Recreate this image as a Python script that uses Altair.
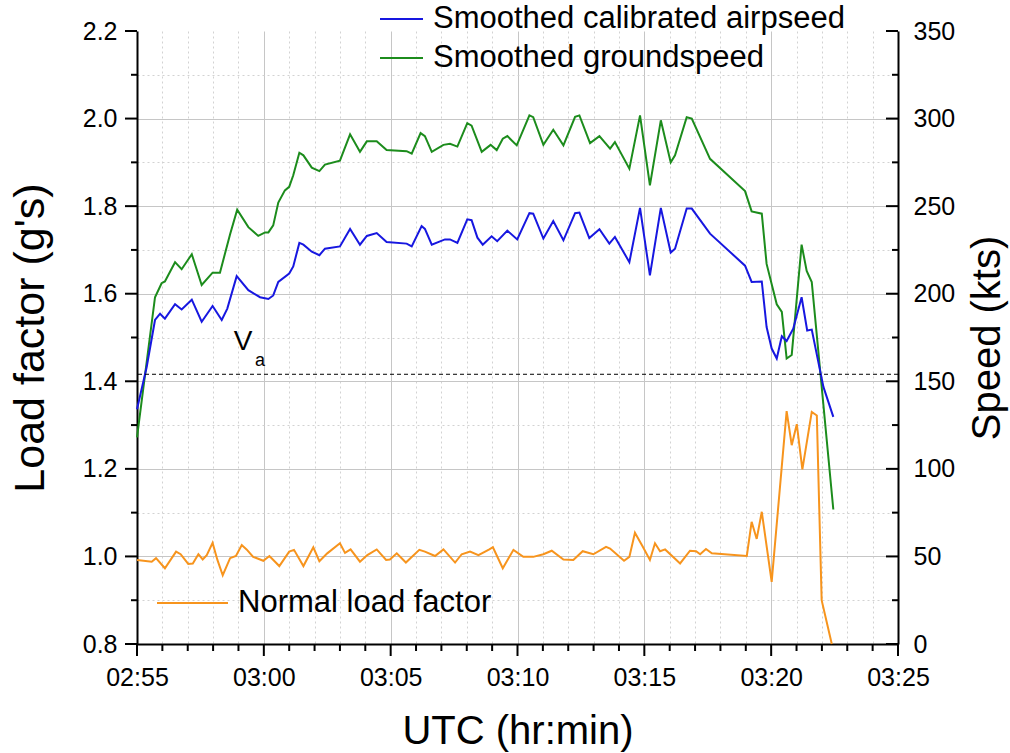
import altair as alt
import pandas as pd

FONT = "Liberation Sans"

# ---- data (time in minutes after 02:55 UTC) ----
cas_t = [0.0, 0.38, 0.71, 0.91, 1.10, 1.50, 1.76, 2.16, 2.55, 2.98, 3.34, 3.56, 3.93, 4.39, 4.85,
         5.18, 5.37, 5.57, 6.00, 6.16, 6.40, 6.56, 6.89, 7.19, 7.41, 8.00, 8.40, 8.79, 9.06, 9.45,
         9.84, 10.63, 10.83, 11.22, 11.35, 11.62, 12.14, 12.34, 12.63, 13.02, 13.19, 13.42, 13.63,
         13.98, 14.20, 14.60, 14.99, 15.47, 15.62, 16.02, 16.41, 16.81, 17.27, 17.44, 17.83, 18.23,
         18.62, 18.84, 19.41, 19.83, 20.22, 20.65, 21.04, 21.21, 21.67, 21.87, 22.59, 23.97, 24.23,
         24.63, 24.82, 25.02, 25.22, 25.42, 25.61, 25.87, 26.20, 26.42, 26.60, 27.06, 27.45]
cas_kts = [134, 158, 185, 188.6, 185.8, 194, 191, 196.6, 184, 193, 185, 191.5, 210, 202, 198,
           197, 199, 206.7, 211.5, 215.6, 229, 228, 224, 222, 225.7, 227, 237, 228, 233, 234.6,
           229.5, 228.6, 227, 238.6, 237, 228, 231, 231, 229, 242.5, 242, 232, 228,
           232.8, 230, 236, 231, 246, 245.7, 231.5, 241.5, 230.5, 246, 246.3, 231.8, 236.8,
           228.6, 232.4, 218, 249, 210.5, 249, 223.5, 225.7, 248.6, 248.6, 234.3, 216, 206.7,
           207, 181, 168.7, 163, 175.7, 173, 180, 198, 179, 179.5, 146.8, 129.7]

gs_t = [0.0, 0.71, 0.97, 1.10, 1.50, 1.76, 2.16, 2.55, 2.98, 3.27, 3.67, 3.95, 4.39, 4.78, 5.05,
        5.18, 5.37, 5.57, 5.83, 6.00, 6.16, 6.40, 6.56, 6.89, 7.19, 7.41, 8.00, 8.40, 8.79, 9.06,
        9.45, 9.84, 10.63, 10.83, 11.18, 11.35, 11.62, 12.08, 12.34, 12.63, 13.02, 13.19, 13.59,
        13.94, 14.18, 14.42, 14.60, 14.97, 15.47, 15.62, 16.02, 16.41, 16.81, 17.27, 17.44, 17.86,
        18.23, 18.65, 18.84, 19.41, 19.83, 20.22, 20.65, 21.04, 21.21, 21.67, 21.87, 22.59, 23.97,
        24.23, 24.63, 24.82, 25.22, 25.42, 25.61, 25.81, 26.20, 26.40, 26.60, 27.45]
gs_kts = [118, 198, 206, 207, 218, 214, 222.5, 205, 212, 212, 234, 248, 238, 233, 235,
          235, 239, 252, 259, 261, 267.6, 280.5, 279, 272, 270, 273.7, 276, 291, 281, 287,
          287, 282, 281.4, 280, 291.7, 290, 281, 285, 285.6, 284, 297.4, 296, 281,
          285, 282, 288.5, 290, 284.7, 301.8, 300.8, 285, 293.6, 284.7, 301, 301.8, 286,
          290, 282.8, 286.6, 271.4, 301.8, 261.9, 299, 275, 279, 300.8, 300, 277, 258.6,
          247, 245.7, 217, 194, 189.6, 163, 165, 228, 213, 206.7, 76.8]

nz_t = [0.0, 0.58, 0.75, 1.10, 1.54, 1.72, 2.02, 2.20, 2.42, 2.59, 2.75, 2.98, 3.17, 3.38, 3.67,
        3.90, 4.13, 4.32, 4.58, 4.98, 5.22, 5.61, 6.00, 6.19, 6.56, 6.95, 7.19, 7.50, 8.00, 8.20,
        8.42, 8.79, 9.08, 9.45, 9.82, 9.97, 10.24, 10.60, 11.13, 11.35, 11.75, 12.08, 12.54, 12.80,
        13.13, 13.46, 13.89, 14.03, 14.42, 14.84, 15.23, 15.62, 16.02, 16.35, 16.81, 17.20, 17.57,
        17.99, 18.49, 18.65, 19.20, 19.41, 19.63, 19.94, 20.22, 20.42, 20.62, 20.82, 21.41, 21.80,
        22.04, 22.20, 22.43, 22.66, 24.04, 24.23, 24.43, 24.63, 25.02, 25.61, 25.81, 26.01, 26.23,
        26.60, 26.80, 26.99, 27.39]
nz_g = [0.992, 0.988, 0.996, 0.973, 1.011, 1.005, 0.983, 0.984, 1.005, 0.993, 1.003, 1.031, 0.992,
        0.957, 0.996, 1.001, 1.026, 1.016, 0.999, 0.990, 1.001, 0.978, 1.011, 1.015, 0.978, 1.021,
        0.989, 1.007, 1.030, 1.008, 1.016, 0.988, 1.003, 1.016, 0.992, 0.993, 1.007, 0.986, 1.015,
        1.011, 1.001, 1.016, 0.986, 1.005, 1.011, 1.003, 1.016, 1.021, 0.973, 1.015, 0.999, 0.999,
        1.005, 1.013, 0.993, 0.992, 1.012, 1.005, 1.022, 1.018, 0.990, 0.999, 1.054, 1.022, 0.992,
        1.030, 1.012, 1.016, 0.984, 1.013, 1.012, 1.005, 1.017, 1.007, 1.001, 1.079, 1.040, 1.102,
        0.942, 1.332, 1.254, 1.302, 1.199, 1.330, 1.322, 0.900, 0.800]

va_kts = [154]
va_text = ["V", "a"]
va_text_t = [4.18, 4.85]
va_text_kts = [172.6, 161.7]

series_names = ["Smoothed calibrated airpseed", "Smoothed groundspeed", "Normal load factor"]
series_colors = ["#1717e0", "#1c8c1c", "#f7941d"]

x_major = [0, 5, 10, 15, 20, 25, 30]
x_minor = [m for m in range(0, 31) if m % 5 != 0]
load_major = [0.8, 1.0, 1.2, 1.4, 1.6, 1.8, 2.0, 2.2]
load_minor = [0.9, 1.1, 1.3, 1.5, 1.7, 1.9, 2.1]
speed_major = [0, 50, 100, 150, 200, 250, 300, 350]
speed_minor = [25, 75, 125, 175, 225, 275, 325]

W, H = 761, 613
MAJOR_LEN, MINOR_LEN = 12, 7

cas_df = pd.DataFrame({"t": cas_t, "v": cas_kts, "series": series_names[0]})
gs_df = pd.DataFrame({"t": gs_t, "v": gs_kts, "series": series_names[1]})
nz_df = pd.DataFrame({"t": nz_t, "g": nz_g, "series": series_names[2]})
va_df = pd.DataFrame({"v": va_kts})
va_lbl_df = pd.DataFrame({"t": va_text_t, "v": va_text_kts, "txt": va_text})

x_scale = alt.Scale(domain=[0, 30], nice=False, zero=False)
load_scale = alt.Scale(domain=[0.8, 2.2], nice=False, zero=False)
speed_scale = alt.Scale(domain=[0, 350], nice=False, zero=False)

MAJOR_GRID = "#c6c6c6"
MINOR_GRID = "#d2d2d2"

x_label_expr = ("(floor((175 + datum.value) / 60) < 10 ? '0' : '') + "
                "floor((175 + datum.value) / 60) + ':' + (((175 + datum.value) % 60) < 10 ? '0' : '') + "
                "((175 + datum.value) % 60)")

x_axis_major = alt.Axis(
    orient="bottom", values=x_major, labelExpr=x_label_expr, title="UTC (hr:min)",
    grid=True, gridColor=MAJOR_GRID, gridWidth=1, ticks=False, labelFlush=False,
    labelPadding=21, labelFontSize=25, labelFont=FONT, labelColor="black",
    titleFontSize=40, titleFont=FONT, titleFontWeight="normal", titleColor="black",
    titleX=W / 2, titleY=99, titleAlign="center", titleBaseline="alphabetic",
)
x_axis_minor = alt.Axis(
    orient="bottom", values=x_minor, labels=False, title=None, domain=False, ticks=False,
    grid=True, gridColor=MINOR_GRID, gridDash=[2, 3], gridWidth=1,
)

load_axis_major = alt.Axis(
    orient="left", values=load_major, format=".1f", title="Load factor (g's)",
    grid=True, gridColor=MAJOR_GRID, gridWidth=1, labelFlush=False, ticks=False,
    gridOpacity={"condition": {"test": "datum.value > 2.15", "value": 0}, "value": 1},
    labelPadding=20, labelFontSize=25, labelFont=FONT, labelColor="black",
    titleFontSize=43, titleFont=FONT, titleFontWeight="normal", titleColor="black",
    titleAngle=270, titleX=-94, titleY=H / 2, titleAlign="center", titleBaseline="alphabetic",
)
load_axis_minor = alt.Axis(
    orient="left", values=load_minor, labels=False, title=None, domain=False, ticks=False,
    grid=True, gridColor=MINOR_GRID, gridDash=[2, 3], gridWidth=1,
)

speed_axis = alt.Axis(
    orient="right", values=speed_major, format="d", labelFlush=False,
    title="Speed (kts)", grid=False, ticks=False,
    labelPadding=15, labelFontSize=25, labelFont=FONT, labelColor="black",
    titleFontSize=40, titleFont=FONT, titleFontWeight="normal", titleColor="black",
    titleAngle=270, titleX=101, titleY=H / 2, titleAlign="center", titleBaseline="alphabetic",
)


def legend(x, y, size):
    return alt.Legend(
        orient="none", legendX=x, legendY=y, title=None, symbolType="stroke",
        symbolSize=size, symbolStrokeWidth=2, labelFontSize=31, labelFont=FONT,
        labelColor="black", labelOffset=9, labelLimit=1000, padding=0,
    )


nz_line = alt.Chart(nz_df).mark_line(strokeWidth=2).encode(
    x=alt.X("t:Q", scale=x_scale, axis=x_axis_major),
    y=alt.Y("g:Q", scale=load_scale, axis=load_axis_major),
    color=alt.Color("series:N", scale=alt.Scale(domain=[series_names[2]], range=[series_colors[2]]),
                    legend=legend(19, 535.5, 5041)),
)

# carries the dotted minor grid of both load and time axes (draws nothing visible)
minor_guides = alt.Chart(nz_df).mark_line(strokeOpacity=0).encode(
    x=alt.X("t:Q", scale=x_scale, axis=x_axis_minor),
    y=alt.Y("g:Q", scale=load_scale, axis=load_axis_minor),
)

cas_line = alt.Chart(cas_df).mark_line(strokeWidth=2).encode(
    x=alt.X("t:Q", scale=x_scale, axis=None),
    y=alt.Y("v:Q", scale=speed_scale, axis=speed_axis),
    color=alt.Color("series:N", scale=alt.Scale(domain=[series_names[0]], range=[series_colors[0]]),
                    legend=legend(242, -34.5, 1849)),
)

gs_line = alt.Chart(gs_df).mark_line(strokeWidth=2).encode(
    x=alt.X("t:Q", scale=x_scale, axis=None),
    y=alt.Y("v:Q", scale=speed_scale, axis=None),
    color=alt.Color("series:N", scale=alt.Scale(domain=[series_names[1]], range=[series_colors[1]]),
                    legend=legend(242, 4.5, 1849)),
)

va_rule = alt.Chart(va_df).mark_rule(color="black", strokeWidth=1, strokeDash=[4, 3]).encode(
    y=alt.Y("v:Q", scale=speed_scale, axis=None),
)

va_label = alt.Chart(va_lbl_df).mark_text(font=FONT, color="black", align="center", baseline="middle").encode(
    x=alt.X("t:Q", scale=x_scale, axis=None),
    y=alt.Y("v:Q", scale=speed_scale, axis=None),
    text="txt:N",
    size=alt.Size("txt:N", scale=alt.Scale(domain=va_text, range=[28, 18]), legend=None),
)


# ---- axis tick marks (positions from the tick value lists through the scales) ----
def x_ticks(values, length):
    return alt.Chart(pd.DataFrame({"m": values})).mark_tick(
        color="black", opacity=1, thickness=2, orient="vertical", size=length
    ).encode(
        x=alt.X("m:Q", scale=x_scale, axis=None),
        y=alt.value(H + length / 2),
    )


def left_ticks(values, length):
    return alt.Chart(pd.DataFrame({"g": values})).mark_tick(
        color="black", opacity=1, thickness=2, orient="horizontal", size=length
    ).encode(
        y=alt.Y("g:Q", scale=load_scale, axis=None),
        x=alt.value(-length / 2),
    )


def right_ticks(values, length):
    # ticks on the right axis point inward, as in the reference
    return alt.Chart(pd.DataFrame({"v": values})).mark_tick(
        color="black", opacity=1, thickness=2, orient="horizontal", size=length
    ).encode(
        y=alt.Y("v:Q", scale=speed_scale, axis=None),
        x=alt.value(W - length / 2),
    )


tick_layers = [
    x_ticks(x_major, MAJOR_LEN), x_ticks(x_minor, MINOR_LEN),
    left_ticks(load_major, MAJOR_LEN), left_ticks(load_minor, 6),
    right_ticks(speed_major, MAJOR_LEN), right_ticks(speed_minor, 6),
]

chart = alt.layer(minor_guides, nz_line, gs_line, cas_line, va_rule, va_label, *tick_layers).resolve_scale(
    y="independent", color="independent", size="independent"
).resolve_axis(x="independent", y="independent").properties(
    width=W, height=H,
    autosize=alt.AutoSizeParams(type="none"),
    padding={"left": 137, "top": 31, "right": 112, "bottom": 109},
).configure_view(stroke=None).configure_axis(
    domainColor="black", domainWidth=2,
)

chart.save("out.html", embed_options={"renderer": "svg", "actions": False})
